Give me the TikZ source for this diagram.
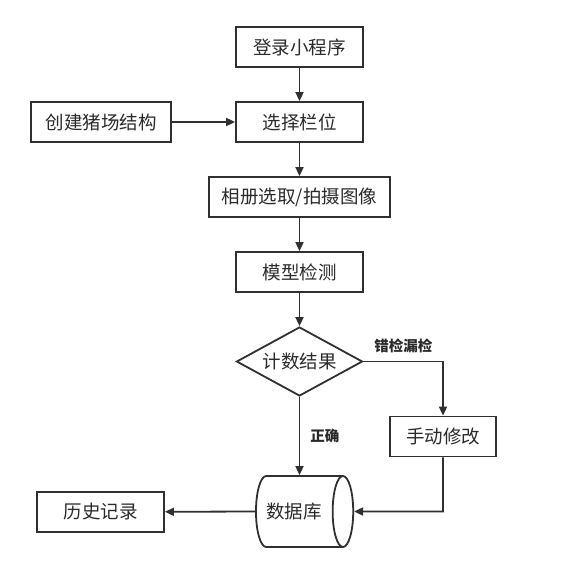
\documentclass[tikz,border=0pt]{standalone}
\usepackage{fontspec}
\setmainfont{Noto Sans CJK SC}
\usetikzlibrary{shapes.geometric,arrows.meta}
\definecolor{lc}{HTML}{303030}
\definecolor{tc}{HTML}{2A2A2A}
\begin{document}
\begin{tikzpicture}[x=1pt,y=-1pt,
  base/.style={draw=lc, line width=1.8pt, inner sep=0pt, text=tc, font=\fontsize{18.5}{18.5}\selectfont},
  box/.style={base, rectangle, minimum height=40pt},
  dec/.style={base, diamond, aspect=1.83, minimum width=126pt, minimum height=69pt},
  db/.style={base, cylinder, shape border rotate=0, minimum height=92pt, minimum width=71pt, aspect=1.2},
  conn/.style={draw=lc, line width=1.8pt, -{Triangle[length=9pt,width=8pt]}},
  lbl/.style={text=tc, font=\fontsize{14.5}{15}\selectfont\bfseries, inner sep=0pt}
]
\useasboundingbox (0,0) rectangle (560,588);
\node[box, minimum width=127pt] (login) at (299.5,47) {登录小程序};
\node[box, minimum width=127pt] (sel) at (299.5,122) {选择栏位};
\node[box, minimum width=140pt] (farm) at (101,122) {创建猪场结构};
\node[box, minimum width=181pt] (img) at (299.5,197) {相册选取/拍摄图像};
\node[box, minimum width=127pt] (model) at (299.5,272) {模型检测};
\node[dec] (res) at (299.5,361.5) {计数结果};
\node[box, minimum width=106pt] (fix) at (443,436.5) {手动修改};
\node[db] (dbase) at (299,511.5) {数据库\rule{10pt}{0pt}};
\node[box, minimum width=127pt] (hist) at (100.5,512) {历史记录};
\coordinate (c1) at (443,361.5);
\coordinate (c2) at (443,511.5);
\draw[conn] (login) -- (sel);
\draw[conn] (farm) -- (sel);
\draw[conn] (sel) -- (img);
\draw[conn] (img) -- (model);
\draw[conn] (model) -- (res);
\draw[conn] (res.south) -- node[lbl, right=10pt, pos=0.5] (ok) {正确} (dbase.north -| res.south);
\draw[conn] (res.east) -- node[lbl, pos=0, anchor=south west, xshift=10pt, yshift=8pt] (err) {错检漏检} (c1) -- (fix);
\draw[conn] (fix) -- (c2) -- (dbase.east);
\draw[conn] (dbase.west) -- (hist);
\end{tikzpicture}
\end{document}
